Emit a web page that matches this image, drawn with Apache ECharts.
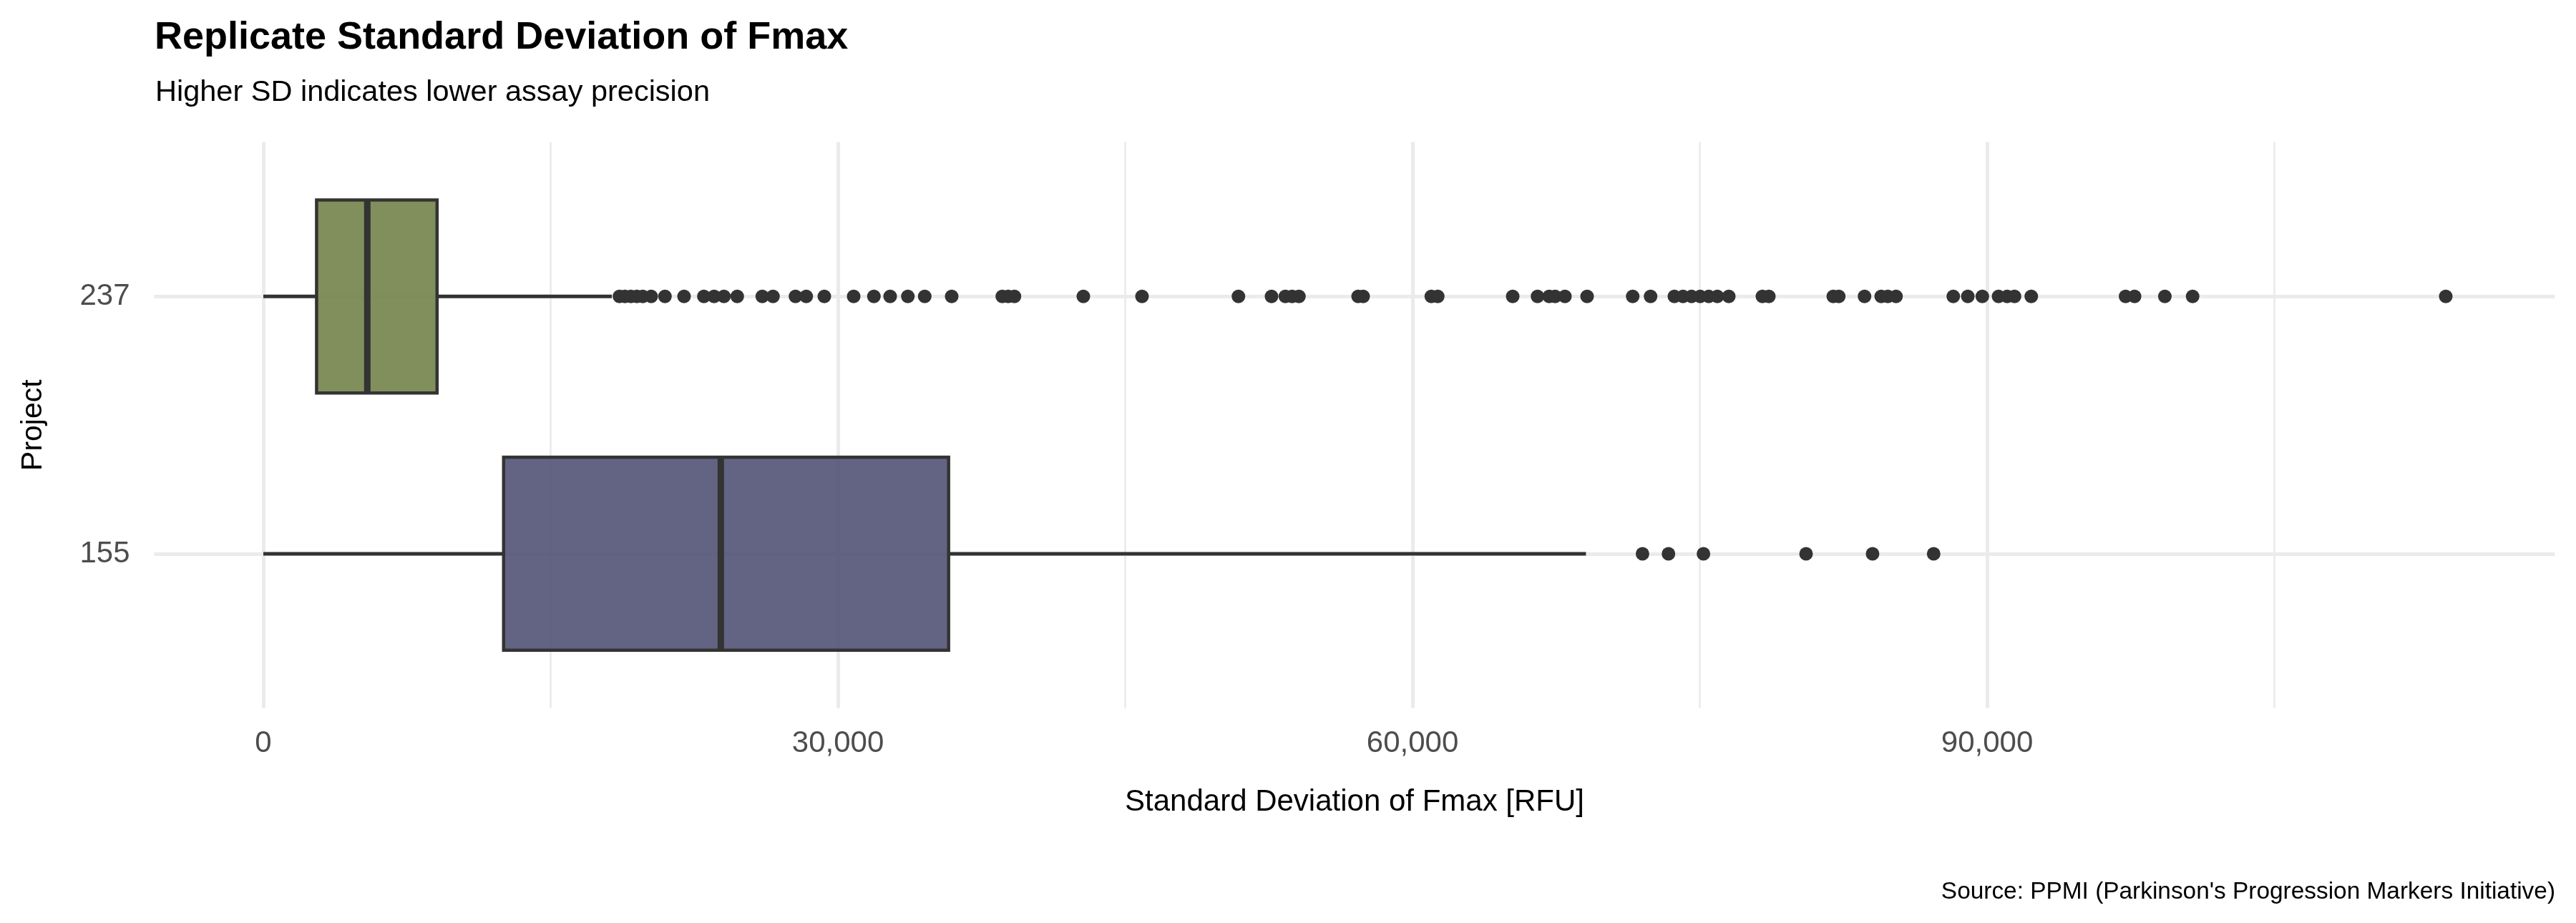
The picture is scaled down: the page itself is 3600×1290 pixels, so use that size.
<!DOCTYPE html>
<html>
<head>
<meta charset="utf-8">
<script src="https://cdn.jsdelivr.net/npm/echarts@6/dist/echarts.min.js"></script>
<style>
  html, body { margin: 0; padding: 0; background: #ffffff; }
  #chart { width: 3600px; height: 1290px; }
</style>
</head>
<body>
<div id="chart"></div>
<script>
// ---- data ----
const categories = ['155', '237'];
const whiskerLow = [0, 0];
const q1 = [12545, 2780];
const median = [23884, 5428];
const q3 = [35779, 9071];
const whiskerHigh = [69056, 18194];
const outliers155 = [72007, 73363, 75190, 80547, 84018, 87208];
const outliers237 = [
  18594, 18878, 19191, 19502, 19812, 20249, 20970, 21967, 23002, 23536,
  24048, 24743, 26051, 26611, 27784, 28345, 29290, 30822, 31879, 32727,
  33650, 34532, 35940, 38581, 38891, 39216, 42814, 45877, 50910, 52639,
  53360, 53712, 54070, 57160, 57422, 60982, 61318, 65230, 66526, 67135,
  67445, 67957, 69115, 71495, 72429, 73673, 74121, 74569, 75018, 75466,
  75914, 76512, 78268, 78604, 81967, 82254, 83599, 84470, 84817, 85243,
  88232, 88991, 89749, 90597, 91046, 91430, 92304, 97228, 97699, 99279,
  100729, 113946
];
const xMajorTicks = [0, 30000, 60000, 90000];
const xMinorTicks = [15000, 45000, 75000, 105000];

// ---- styles ----
const boxFills = ['rgba(82,82,117,0.9)', 'rgba(114,131,73,0.9)'];
const ink = '#333333';
const gridColor = '#EBEBEB';
const FONT = 'Liberation Sans';

// ggplot-like 5% expansion of the continuous axis
const allVals = [].concat(whiskerLow, whiskerHigh, outliers155, outliers237);
const dMin = Math.min.apply(null, allVals);
const dMax = Math.max.apply(null, allVals);
const span = dMax - dMin;
const xMin = dMin - 0.05 * span;
const xMax = dMax + 0.05 * span;

const boxData = categories.map((c, i) => [i + 1, whiskerLow[i], q1[i], median[i], q3[i], whiskerHigh[i]]);
const outlierData = [].concat(
  outliers155.map(v => [v, 1]),
  outliers237.map(v => [v, 2])
);

const chart = echarts.init(document.getElementById('chart'), null, { renderer: 'canvas' });

const option = {
  backgroundColor: '#ffffff',
  animation: false,
  title: [
    {
      text: 'Replicate Standard Deviation of Fmax',
      left: 211, top: 21,
      textStyle: { fontFamily: FONT, fontSize: 54, fontWeight: 'bold', color: '#000000', lineHeight: 54 }
    },
    {
      text: 'Higher SD indicates lower assay precision',
      left: 212, top: 104,
      textStyle: { fontFamily: FONT, fontSize: 41.5, fontWeight: 'normal', color: '#000000', lineHeight: 41.5 }
    },
    {
      text: "Source: PPMI (Parkinson's Progression Markers Initiative)",
      right: 24, top: 1225,
      textStyle: { fontFamily: FONT, fontSize: 33.4, fontWeight: 'normal', color: '#000000', lineHeight: 33.4 }
    }
  ],
  grid: {
    left: 215.5, right: 29.5, top: 198.5, bottom: 300.2,
    containLabel: false
  },
  xAxis: [
    {
      type: 'value',
      min: xMin, max: xMax,
      position: 'bottom',
      axisLine: { show: false },
      axisTick: { show: false, customValues: xMajorTicks },
      axisLabel: {
        customValues: xMajorTicks,
        margin: 50,
        verticalAlign: 'middle',
        fontFamily: FONT, fontSize: 42, color: '#4D4D4D',
        formatter: v => v.toLocaleString('en-US')
      },
      splitLine: { show: true, lineStyle: { color: gridColor, width: 5 } },
      name: 'Standard Deviation of Fmax [RFU]',
      nameLocation: 'middle',
      nameGap: 132,
      nameTextStyle: { fontFamily: FONT, fontSize: 42, color: '#000000', verticalAlign: 'middle' }
    },
    {
      type: 'value',
      min: xMin, max: xMax,
      position: 'bottom',
      axisLine: { show: false },
      axisTick: { show: false, customValues: xMinorTicks },
      axisLabel: { show: false, customValues: xMinorTicks },
      splitLine: { show: true, lineStyle: { color: gridColor, width: 2.7 } }
    }
  ],
  yAxis: {
    type: 'value',
    min: 1 - 0.6, max: categories.length + 0.6,
    axisLine: { show: false },
    axisTick: { show: false, customValues: categories.map((c, i) => i + 1) },
    axisLabel: {
      customValues: categories.map((c, i) => i + 1),
      margin: 34,
      align: 'right',
      verticalAlign: 'middle',
      fontFamily: FONT, fontSize: 42, color: '#4D4D4D',
      formatter: v => categories[Math.round(v) - 1]
    },
    splitLine: { show: true, lineStyle: { color: gridColor, width: 5 } },
    name: 'Project',
    nameLocation: 'middle',
    nameRotate: 90,
    nameGap: 169,
    nameTextStyle: { fontFamily: FONT, fontSize: 41, color: '#000000', verticalAlign: 'middle' }
  },
  series: [
    {
      type: 'custom',
      xAxisIndex: 0,
      yAxisIndex: 0,
      data: boxData,
      encode: { x: [1, 2, 3, 4, 5], y: 0 },
      z: 2,
      renderItem: function (params, api) {
        const y = api.value(0);
        const lo = api.coord([api.value(1), y]);
        const b1 = api.coord([api.value(2), y]);
        const md = api.coord([api.value(3), y]);
        const b3 = api.coord([api.value(4), y]);
        const hi = api.coord([api.value(5), y]);
        const h = api.size([0, 0.75])[1];
        return {
          type: 'group',
          children: [
            { type: 'line', shape: { x1: lo[0], y1: lo[1], x2: b1[0], y2: b1[1] }, style: { stroke: ink, lineWidth: 5 } },
            { type: 'line', shape: { x1: b3[0], y1: b3[1], x2: hi[0], y2: hi[1] }, style: { stroke: ink, lineWidth: 5 } },
            { type: 'rect', shape: { x: b1[0], y: b1[1] - h / 2, width: b3[0] - b1[0], height: h },
              style: { fill: boxFills[params.dataIndex], stroke: ink, lineWidth: 4.5 } },
            { type: 'line', shape: { x1: md[0], y1: md[1] - h / 2, x2: md[0], y2: md[1] + h / 2 },
              style: { stroke: ink, lineWidth: 9 } }
          ]
        };
      }
    },
    {
      type: 'scatter',
      xAxisIndex: 0,
      yAxisIndex: 0,
      data: outlierData,
      symbol: 'circle',
      symbolSize: 19,
      itemStyle: { color: ink, opacity: 1 },
      z: 3
    }
  ]
};

chart.setOption(option);
</script>
</body>
</html>
